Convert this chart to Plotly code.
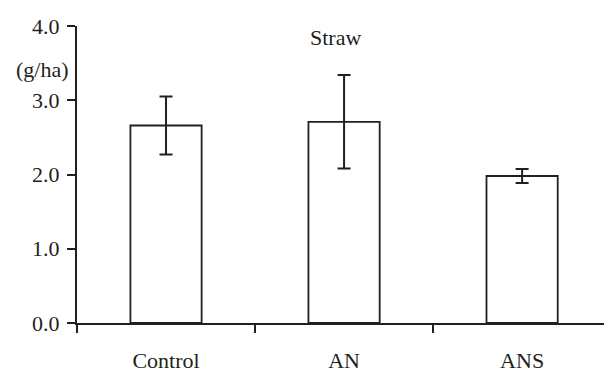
import plotly.graph_objects as go

categories = ["Control", "AN", "ANS"]
values = [2.66, 2.71, 1.98]
errors = [0.39, 0.63, 0.095]
y_ticks = [0.0, 1.0, 2.0, 3.0, 4.0]
y_tick_labels = ["0.0", "1.0", "2.0", "3.0", "4.0"]

ink = "#231f20"
font_family = "Liberation Serif"

fig = go.Figure()
fig.add_trace(go.Bar(
    x=categories,
    y=values,
    marker=dict(color="white", line=dict(color=ink, width=1.8)),
    error_y=dict(type="data", array=errors, visible=True, color=ink, thickness=2, width=6.5),
    width=0.4,
))

fig.update_layout(
    width=604, height=372,
    margin=dict(l=77, r=0, t=26, b=49),
    paper_bgcolor="white", plot_bgcolor="white",
    showlegend=False,
    font=dict(family=font_family, size=22, color=ink),
    xaxis=dict(
        type="category",
        range=[-0.5, 2.46],
        showline=True, linecolor=ink, linewidth=2,
        ticks="outside", tickson="boundaries", ticklen=8, tickwidth=2, tickcolor=ink,
        showgrid=False, zeroline=False,
        ticklabelstandoff=17,
    ),
    yaxis=dict(
        range=[0, 4],
        tickvals=y_ticks, ticktext=y_tick_labels,
        showline=True, linecolor=ink, linewidth=2,
        ticks="outside", ticklen=8, tickwidth=2, tickcolor=ink,
        showgrid=False, zeroline=False,
        ticklabelstandoff=3,
    ),
    annotations=[
        dict(text="(g/ha)", xref="paper", yref="y", x=0, y=3.41, xanchor="right",
             yanchor="middle", xshift=-6, showarrow=False, font=dict(size=22, color=ink)),
        dict(text="Straw", xref="paper", yref="y", x=0.491, y=3.84, xanchor="center",
             yanchor="middle", showarrow=False, font=dict(size=22, color=ink)),
    ],
)

fig.write_html("out.html")
